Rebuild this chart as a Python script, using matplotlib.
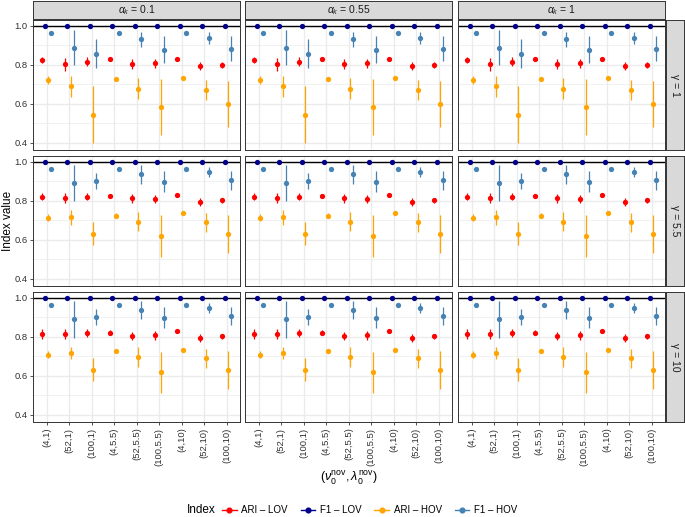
import matplotlib.pyplot as plt
from matplotlib.lines import Line2D
import numpy as np

plt.rcParams['font.family'] = ['Liberation Sans', 'DejaVu Sans']
plt.rcParams['mathtext.fontset'] = 'custom'
plt.rcParams['mathtext.rm'] = 'Liberation Sans'
plt.rcParams['mathtext.it'] = 'Liberation Sans:italic'

# categories and facets
categories = ['(4,1)', '(52,1)', '(100,1)', '(4,5.5)', '(52,5.5)', '(100,5.5)',
              '(4,10)', '(52,10)', '(100,10)']
alpha_labels = ['0.1', '0.55', '1']
gamma_labels = ['1', '5.5', '10']
series_names = ['ARI \u2013 LOV', 'F1 \u2013 LOV', 'ARI \u2013 HOV', 'F1 \u2013 HOV']
series_colors = ['#FF0000', '#00008B', '#FFA500', '#4682B4']

# one list per gamma row (same for every alpha_k column)
ari_lov = [
    [0.826, 0.802, 0.817, 0.829, 0.806, 0.807, 0.829, 0.795, 0.800],
    [0.822, 0.814, 0.822, 0.827, 0.812, 0.808, 0.829, 0.795, 0.803],
    [0.814, 0.815, 0.819, 0.822, 0.805, 0.807, 0.829, 0.795, 0.803],
]
ari_lov_err = [
    [0.015, 0.035, 0.022, 0.004, 0.025, 0.022, 0.004, 0.020, 0.017],
    [0.017, 0.025, 0.017, 0.004, 0.022, 0.021, 0.004, 0.019, 0.014],
    [0.025, 0.027, 0.019, 0.015, 0.020, 0.022, 0.004, 0.022, 0.012],
]
f1_lov = [
    [1.0] * 9,
    [1.0] * 9,
    [1.0] * 9,
]
f1_lov_err = [
    [0.0] * 9,
    [0.0] * 9,
    [0.0] * 9,
]
ari_hov = [
    [0.721, 0.689, 0.544, 0.728, 0.677, 0.583, 0.731, 0.672, 0.598],
    [0.714, 0.715, 0.632, 0.724, 0.693, 0.619, 0.736, 0.691, 0.629],
    [0.708, 0.717, 0.632, 0.725, 0.697, 0.617, 0.732, 0.690, 0.629],
]
ari_hov_err = [
    [0.020, 0.056, 0.145, 0.010, 0.054, 0.144, 0.004, 0.052, 0.117],
    [0.020, 0.037, 0.057, 0.013, 0.050, 0.107, 0.004, 0.049, 0.096],
    [0.018, 0.030, 0.058, 0.010, 0.051, 0.106, 0.004, 0.049, 0.096],
]
f1_hov = [
    [0.963, 0.888, 0.856, 0.963, 0.931, 0.878, 0.963, 0.936, 0.883],
    [0.964, 0.892, 0.903, 0.964, 0.936, 0.898, 0.964, 0.947, 0.905],
    [0.964, 0.890, 0.903, 0.964, 0.939, 0.898, 0.964, 0.947, 0.907],
]
f1_hov_err = [
    [0.0, 0.090, 0.074, 0.0, 0.037, 0.070, 0.0, 0.030, 0.063],
    [0.0, 0.094, 0.042, 0.0, 0.050, 0.054, 0.0, 0.027, 0.049],
    [0.0, 0.095, 0.042, 0.0, 0.047, 0.055, 0.0, 0.027, 0.048],
]

values = [ari_lov, f1_lov, ari_hov, f1_hov]
errors = [ari_lov_err, f1_lov_err, ari_hov_err, f1_hov_err]

W, H = 685, 517
fig = plt.figure(figsize=(W / 100, H / 100), dpi=100)


def px_axes(x, y, w, h):
    return fig.add_axes([x / W, 1 - (y + h) / H, w / W, h / H])


col_x = [33, 245, 458]
row_y = [20, 156, 292]
pw, ph = 207, 130
border = '#333333'
grid_c = '#EBEBEB'
text_c = '#333333'

xpos = np.arange(1, len(categories) + 1)
offsets = [-0.2, -0.067, 0.067, 0.2]

for r in range(3):
    for c in range(3):
        ax = px_axes(col_x[c], row_y[r], pw, ph)
        ax.set_xlim(0.4, 9.6)
        ax.set_ylim(0.363, 1.03)
        ax.set_xticks(xpos)
        ax.set_yticks([0.4, 0.6, 0.8, 1.0])
        ax.set_yticks([0.5, 0.7, 0.9], minor=True)
        ax.grid(True, which='major', color=grid_c, lw=1.0, zorder=0)
        ax.grid(True, which='minor', axis='y', color=grid_c, lw=0.5, zorder=0)
        ax.set_axisbelow(True)
        for s in ax.spines.values():
            s.set_color(border)
            s.set_linewidth(0.7)
        ax.tick_params(which='minor', length=0)
        ax.tick_params(which='major', length=2.5, width=0.6, color=border,
                       labelsize=6.8, labelcolor=text_c, pad=1.5)
        if r == 2:
            ax.set_xticklabels(categories, rotation=90)
        else:
            ax.set_xticklabels([])
            ax.tick_params(axis='x', length=0)
        if c == 0:
            ax.set_yticklabels(['0.4', '0.6', '0.8', '1.0'])
        else:
            ax.set_yticklabels([])
            ax.tick_params(axis='y', length=0)

        ax.axhline(1.0, color='black', lw=1.0, zorder=2)
        for k in range(4):
            ax.errorbar(xpos + offsets[k], values[k][r], yerr=errors[k][r],
                        fmt='o', color=series_colors[k], ms=3.8, mew=0,
                        elinewidth=0.9, capsize=1.6, capthick=0.9, zorder=3)

        if r == 0:
            sax = px_axes(col_x[c], 1, pw, 18)
            sax.set_facecolor('#D9D9D9')
            sax.set_xticks([])
            sax.set_yticks([])
            for s in sax.spines.values():
                s.set_color(border)
                s.set_linewidth(0.7)
            sax.text(0.5, 0.5, r'$\alpha_k$ = ' + alpha_labels[c],
                     transform=sax.transAxes, ha='center', va='center',
                     fontsize=7.5, color='#1A1A1A')
        if c == 2:
            sax = px_axes(666, row_y[r], 18, ph)
            sax.set_facecolor('#D9D9D9')
            sax.set_xticks([])
            sax.set_yticks([])
            for s in sax.spines.values():
                s.set_color(border)
                s.set_linewidth(0.7)
            sax.text(0.5, 0.5, '\u03b3 = ' + gamma_labels[r],
                     transform=sax.transAxes, ha='center', va='center',
                     rotation=-90, fontsize=7.5, color='#1A1A1A')

# axis titles
fig.text(8 / W, 1 - 221 / H, 'Index value', rotation=90, ha='center',
         va='center', fontsize=8.5)
fig.text(349 / W, 1 - 478 / H, r'$(\nu_0^{\mathrm{nov}},\lambda_0^{\mathrm{nov}})$',
         ha='center', va='center', fontsize=9)

# legend
fig.text(187 / W, 1 - 510 / H, 'Index', ha='left', va='center', fontsize=8.5)
handles = [Line2D([], [], color=series_colors[k], marker='o', ms=3.4, lw=1.0)
           for k in range(4)]
fig.legend(handles, series_names, loc='center left',
           bbox_to_anchor=(222 / W, 1 - 510 / H), ncol=4, frameon=False,
           fontsize=7, handlelength=1.5, handletextpad=0.5,
           columnspacing=1.3, borderpad=0, borderaxespad=0)

fig.savefig('out.png', dpi=100)
